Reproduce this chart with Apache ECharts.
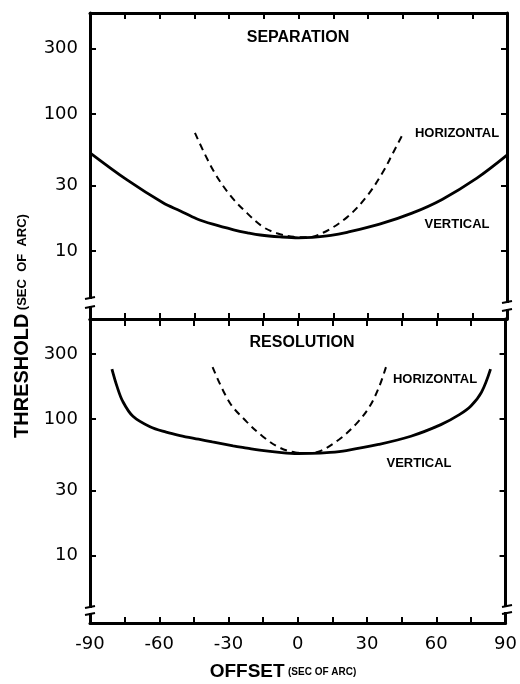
<!DOCTYPE html>
<html>
<head>
<meta charset="utf-8">
<script src="https://cdn.jsdelivr.net/npm/echarts@6/dist/echarts.min.js"></script>
<style>
html,body{margin:0;padding:0;background:#fff;}
#chart{width:520px;height:684px;}
</style>
</head>
<body>
<div id="chart"></div>
<script>
// ---- data (offset in sec of arc, threshold in sec of arc) ----
const offsetTicks = [-90, -60, -30, 0, 30, 60, 90];
const thresholdTicks = [10, 30, 100, 300];

// SEPARATION
const sepVertOffset = [-90, -74, -58.5, -51, -44, -37, -28, -22, -16.5, -8, 0, 6, 14, 21, 35, 49, 62, 77, 90];
const sepVertValue  = [52, 33, 22.5, 19.6, 17.2, 15.7, 14.3, 13.6, 13.1, 12.7, 12.5, 12.6, 13.0, 13.7, 15.7, 18.9, 23.8, 34, 50];
const sepHorzOffset = [-44.7, -36.9, -29.6, -22.2, -15.3, -9.3, -2, 3.7, 10.6, 20.9, 29.6, 36.5, 40.8, 45.1];
const sepHorzValue  = [72.6, 39, 25.6, 18.9, 15, 13.5, 12.7, 12.6, 13.6, 17.6, 25.2, 37.8, 51.9, 71.5];

// RESOLUTION
const resVertOffset = [-80.5, -78.3, -75.8, -71.4, -64, -57, -51, -43, -37, -28, -22, -16.5, -8, 0, 6, 14, 21, 35, 49, 62, 70, 75, 79.6, 83.5];
const resVertValue  = [233, 174, 135, 105, 88, 80.4, 75.9, 71.3, 68.1, 63.8, 61.4, 59.3, 57.1, 56, 56.1, 57.1, 58.9, 65.3, 75, 91.2, 108, 125, 158, 233];
const resHorzOffset = [-36.9, -29.6, -22.2, -15.3, -8, -1, 4, 9.3, 17.9, 25.2, 30.9, 35.2, 38.2];
const resHorzValue  = [241, 133, 96, 75, 62, 57, 56.5, 58, 71, 92, 122, 172, 241];

// ---- helpers ----
// the y axes are logarithmic: values are placed on a value axis in log10 units
const L = Math.log10;
const yMin = L(3.2), yMax = L(543);
const yTickPos = thresholdTicks.map(L);
const pts = (xs, vs) => xs.map((x, i) => [x, L(vs[i])]);

const AX = { color: '#000', width: 3 };
function xAxisCfg(grid, pos, showLabel, tickLen) {
  return {
    type: 'value', gridIndex: grid, position: pos,
    min: -90, max: 90, interval: 15,
    axisLine: { show: true, onZero: false, lineStyle: AX },
    axisTick: { show: true, inside: true, length: tickLen, lineStyle: { color: '#000', width: 2 } },
    splitLine: { show: false },
    axisLabel: {
      show: showLabel, margin: 12, color: '#000',
      fontFamily: 'DejaVu Sans', fontSize: 18,
      formatter: v => offsetTicks.includes(v) ? String(v) : ''
    }
  };
}
function yAxisCfg(grid, pos, showLabel) {
  return {
    type: 'value', gridIndex: grid, position: pos,
    min: yMin, max: yMax,
    axisLine: { show: true, onZero: false, lineStyle: AX },
    axisTick: { show: true, inside: true, length: 6, customValues: yTickPos, lineStyle: { color: '#000', width: 2 } },
    splitLine: { show: false },
    axisLabel: {
      show: showLabel, margin: 12, color: '#000', customValues: yTickPos,
      fontFamily: 'DejaVu Sans', fontSize: 18,
      formatter: v => String(Math.round(Math.pow(10, v)))
    }
  };
}
function line(name, data, xi, yi, dashed) {
  return {
    name, type: 'line', data, xAxisIndex: xi, yAxisIndex: yi,
    showSymbol: false, smooth: 0.35, silent: true,
    lineStyle: dashed ? { color: '#000', width: 2, type: [7, 5] } : { color: '#000', width: 2.8 }
  };
}
function txt(text, x, y, size, extra) {
  return Object.assign({
    type: 'text', x, y, silent: true,
    style: {
      text, fill: '#000', fontFamily: 'Liberation Sans', fontWeight: 'bold', fontSize: size,
      align: 'center', verticalAlign: 'middle', textAlign: 'center', textVerticalAlign: 'middle'
    }
  }, extra || {});
}
function brk(x, y1, y2) {
  // axis break: white gap plus two short strokes
  return [
    { type: 'rect', shape: { x: x - 4, y: y1 + 1, width: 8, height: y2 - y1 - 2 }, style: { fill: '#fff' }, z: 100, silent: true },
    { type: 'line', shape: { x1: x - 5, y1: y1 + 1, x2: x + 5, y2: y1 - 1 }, style: { stroke: '#000', lineWidth: 2 }, z: 101, silent: true },
    { type: 'line', shape: { x1: x - 5, y1: y2 + 1, x2: x + 5, y2: y2 - 1 }, style: { stroke: '#000', lineWidth: 2 }, z: 101, silent: true }
  ];
}

const chart = echarts.init(document.getElementById('chart'), null, { renderer: 'canvas' });
chart.setOption({
  backgroundColor: '#fff',
  animation: false,
  grid: [
    { left: 90, right: 13, top: 13, height: 306 },
    { left: 90, right: 13, top: 319, height: 304 }
  ],
  xAxis: [
    xAxisCfg(0, 'bottom', false, 6),
    xAxisCfg(0, 'top', false, 6),
    xAxisCfg(1, 'bottom', true, 6),
    xAxisCfg(1, 'top', false, 7)
  ],
  yAxis: [
    yAxisCfg(0, 'left', true),
    yAxisCfg(0, 'right', false),
    yAxisCfg(1, 'left', true),
    yAxisCfg(1, 'right', false)
  ],
  series: [
    line('Separation vertical', pts(sepVertOffset, sepVertValue), 0, 0, false),
    line('Separation horizontal', pts(sepHorzOffset, sepHorzValue), 0, 0, true),
    line('Resolution vertical', pts(resVertOffset, resVertValue), 2, 2, false),
    line('Resolution horizontal', pts(resHorzOffset, resHorzValue), 2, 2, true)
  ],
  graphic: [
    txt('SEPARATION', 298, 38, 16),
    txt('HORIZONTAL', 457, 133, 13),
    txt('VERTICAL', 457, 224, 13),
    txt('RESOLUTION', 302, 343, 16),
    txt('HORIZONTAL', 435, 379, 13),
    txt('VERTICAL', 419, 463, 13),
    {
      type: 'text', x: 283, y: 672, silent: true,
      style: {
        text: '{a|OFFSET} {b|(SEC OF ARC)}', fill: '#000',
        align: 'center', verticalAlign: 'middle', textAlign: 'center', textVerticalAlign: 'middle',
        rich: {
          a: { fontFamily: 'Liberation Sans', fontWeight: 'bold', fontSize: 19, fill: '#000' },
          b: { fontFamily: 'Liberation Sans', fontWeight: 'bold', fontSize: 10, fill: '#000' }
        }
      }
    },
    {
      type: 'text', x: 22, y: 326, rotation: Math.PI / 2, silent: true,
      style: {
        text: '{a|THRESHOLD} {b|(SEC  OF  ARC)}', fill: '#000',
        align: 'center', verticalAlign: 'middle', textAlign: 'center', textVerticalAlign: 'middle',
        rich: {
          a: { fontFamily: 'Liberation Sans', fontWeight: 'bold', fontSize: 20, fill: '#000' },
          b: { fontFamily: 'Liberation Sans', fontWeight: 'bold', fontSize: 13, fill: '#000' }
        }
      }
    }
  ].concat(brk(90, 298, 307), brk(507, 302, 310), brk(90, 607, 614), brk(507, 606, 613))
});
</script>
</body>
</html>
